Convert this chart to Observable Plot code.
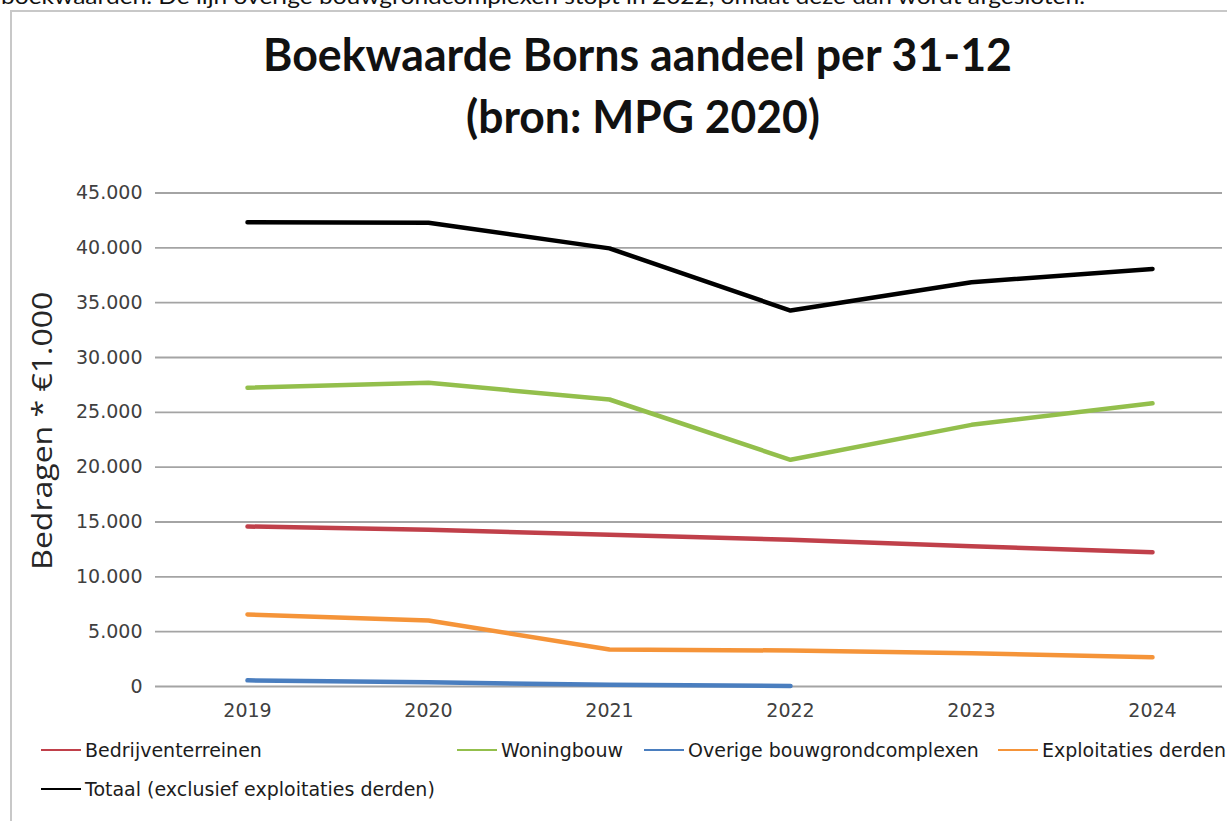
<!DOCTYPE html>
<html>
<head>
<meta charset="utf-8">
<script src="https://cdn.jsdelivr.net/npm/d3@7"></script>
<script src="https://cdn.jsdelivr.net/npm/@observablehq/plot@0.6"></script>
<style>
  html, body { margin: 0; padding: 0; background: #fff; }
  body { width: 1227px; height: 821px; overflow: hidden; position: relative; }
  #frame { position: absolute; left: 10px; top: 10px; width: 1260px; height: 900px;
           border-left: 2px solid #c8c8c8; border-top: 2px solid #c8c8c8; }
  #chart { position: absolute; left: 0; top: 0; }
  #overlay { position: absolute; left: 0; top: 0; }
</style>
</head>
<body>
<div id="frame"></div>
<div id="chart"></div>
<svg id="overlay" width="1227" height="821"></svg>
<script>
// Boekwaarde (x €1.000) per 31-12, per soort complex
const years = [2019, 2020, 2021, 2022, 2023, 2024];
const bedrijventerreinen = [14590, 14290, 13830, 13380, 12790, 12250];
const woningbouw = [27240, 27690, 26170, 20670, 23860, 25830];
const overigeBouwgrond = [560, 380, 150, 50]; // complex wordt in 2022 afgesloten
const exploitatiesDerden = [6570, 6020, 3370, 3280, 3040, 2670];
const totaal = [42340, 42280, 39950, 34280, 36870, 38080];

const yTicks = [0, 5000, 10000, 15000, 20000, 25000, 30000, 35000, 40000, 45000];

const seriesNames = [
  "Bedrijventerreinen",
  "Woningbouw",
  "Overige bouwgrondcomplexen",
  "Exploitaties derden",
  "Totaal (exclusief exploitaties derden)"
];
const seriesColors = ["#c0404a", "#93bf4c", "#4a7ebf", "#f59439", "#000000"];
const seriesValues = [bedrijventerreinen, woningbouw, overigeBouwgrond, exploitatiesDerden, totaal];

const titleLines = ["Boekwaarde Borns aandeel per 31-12", "(bron: MPG 2020)"];
const yLabel = "Bedragen * €1.000";
const introText = "boekwaarden. De lijn overige bouwgrondcomplexen stopt in 2022, omdat deze dan wordt afgesloten.";

// Dutch number formatting: 45.000
const nl = d3.formatLocale({decimal: ",", thousands: ".", grouping: [3], currency: ["€", ""]});
const fmt = nl.format(",d");

const series = seriesNames.map((name, k) => ({
  name,
  color: seriesColors[k],
  rows: seriesValues[k].map((v, i) => ({year: years[i], value: v}))
}));

const chart = Plot.plot({
  width: 1227,
  height: 730,
  marginTop: 192.5,
  marginBottom: 44,
  marginLeft: 155,
  marginRight: 5,
  style: {fontFamily: "DejaVu Sans", fontSize: "19px", color: "#404040", background: "transparent"},
  x: {type: "point", domain: years, range: [246, 1153], padding: 0},
  y: {domain: [0, 45000]},
  marks: [
    Plot.ruleY(yTicks, {stroke: "#a4a4a4", strokeWidth: 1.8}),
    Plot.axisY(yTicks, {tickSize: 0, tickPadding: 13, tickFormat: fmt, label: null}),
    Plot.axisX(years, {tickSize: 0, tickPadding: 17, tickFormat: d => String(d), label: null}),
    ...series.map(s => Plot.line(s.rows, {
      x: "year", y: "value", stroke: s.color, strokeWidth: 4.5,
      strokeLinejoin: "round", strokeLinecap: "round"
    })),
    Plot.text([yLabel], {
      text: d => d, frameAnchor: "left", rotate: -90, dx: -112, dy: -9,
      textAnchor: "middle", fontSize: 28, fontFamily: "Open Sans", fill: "#262626",
      className: "ylabel"
    })
  ]
});
document.getElementById("chart").append(chart);
// stretch the axis title to its full length
d3.select(chart).selectAll(".ylabel text")
  .attr("textLength", 278).attr("lengthAdjust", "spacingAndGlyphs");

// Heading text and legend
const svg = d3.select("#overlay");

svg.append("text")
  .attr("x", 1).attr("y", 4)
  .attr("font-family", "Lato").attr("font-size", 22).attr("fill", "#111")
  .attr("textLength", 1084).attr("lengthAdjust", "spacingAndGlyphs")
  .text(introText);

const titleSpecs = [
  {x: 637.5, y: 71, len: 749},
  {x: 643, y: 133, len: 354}
];
titleLines.forEach((t, i) => {
  svg.append("text")
    .attr("x", titleSpecs[i].x).attr("y", titleSpecs[i].y)
    .attr("text-anchor", "middle")
    .attr("font-family", "Lato").attr("font-weight", 700).attr("font-size", 46)
    .attr("fill", "#111")
    .attr("textLength", titleSpecs[i].len).attr("lengthAdjust", "spacingAndGlyphs")
    .text(t);
});

const legendPos = [
  {x: 41, y: 750}, {x: 457, y: 750}, {x: 644, y: 750}, {x: 998, y: 750}, {x: 41, y: 789}
];
series.forEach((s, k) => {
  const p = legendPos[k];
  svg.append("line")
    .attr("x1", p.x).attr("x2", p.x + 40).attr("y1", p.y).attr("y2", p.y)
    .attr("stroke", s.color).attr("stroke-width", 2);
  svg.append("text")
    .attr("x", p.x + 44).attr("y", p.y + 7)
    .attr("font-family", "DejaVu Sans").attr("font-size", 19).attr("fill", "#1c1c1c")
    .text(s.name);
});
</script>
</body>
</html>
